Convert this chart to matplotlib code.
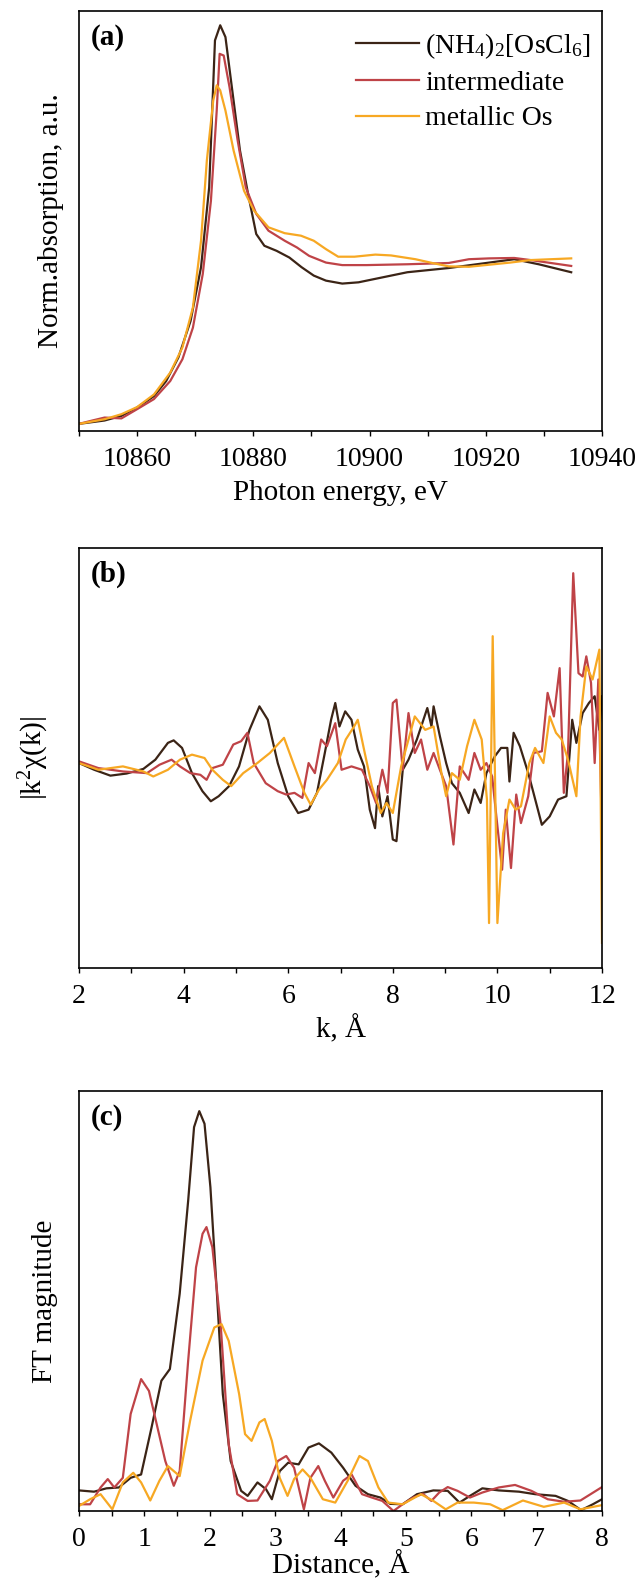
import matplotlib
matplotlib.use("Agg")
import matplotlib.pyplot as plt
from matplotlib.ticker import MultipleLocator
import numpy as np

plt.rcParams['font.family'] = ['Liberation Serif', 'DejaVu Serif']
plt.rcParams['mathtext.fontset'] = 'custom'
plt.rcParams['mathtext.rm'] = 'Liberation Serif'
plt.rcParams['mathtext.it'] = 'Liberation Serif:italic'

names = ['(NH$_4$)$_2$[OsCl$_6$]', 'intermediate', 'metallic Os']
colors = ['#3b2416', '#bf4347', '#f7a823']

# (a) XANES, normalized absorption (a.u.)
e_ref = [10850, 10854.4, 10857.3, 10860, 10862.9, 10865, 10867.1, 10869.2, 10871, 10872.4,
         10873.4, 10874.3, 10875.2, 10876.3, 10877.7, 10879.1, 10880.5, 10881.9, 10884, 10886.2,
         10888.3, 10890.4, 10892.5, 10895.3, 10898.1, 10901.6, 10906.5, 10913.6, 10920.6, 10924.9,
         10929.1, 10934.7]
mu_ref = [0.017, 0.025, 0.036, 0.056, 0.083, 0.119, 0.175, 0.262, 0.39, 0.58,
          0.93, 0.966, 0.938, 0.819, 0.668, 0.564, 0.469, 0.441, 0.429, 0.413,
          0.39, 0.37, 0.358, 0.351, 0.354, 0.364, 0.378, 0.388, 0.401, 0.409,
          0.397, 0.378]
e_int = [10850, 10852.3, 10854.4, 10857.3, 10860, 10862.9, 10865.7, 10867.8, 10869.6, 10871.3,
         10872.7, 10873.7, 10874.2, 10874.9, 10875.9, 10877.3, 10878.7, 10880.5, 10882.6, 10885.4,
         10887.5, 10889.6, 10892.5, 10895.3, 10899.5, 10906.5, 10913.6, 10917.1, 10920.6, 10924.9,
         10927.7, 10934.7]
mu_int = [0.017, 0.025, 0.032, 0.030, 0.052, 0.076, 0.119, 0.171, 0.246, 0.374,
          0.548, 0.763, 0.898, 0.894, 0.819, 0.692, 0.580, 0.517, 0.477, 0.453,
          0.437, 0.417, 0.401, 0.395, 0.395, 0.397, 0.400, 0.409, 0.411, 0.412,
          0.407, 0.393]
e_met = [10850, 10854.4, 10857.3, 10860, 10862.9, 10865.7, 10867.8, 10869.6, 10871, 10872,
         10873.1, 10873.7, 10874.3, 10875.2, 10876.6, 10878.4, 10880.1, 10882.6, 10885.4, 10888.2,
         10890.4, 10892.5, 10894.6, 10897.4, 10901, 10903.7, 10907.9, 10910.8, 10913.6, 10917.1,
         10924.2, 10927.7, 10934.7]
mu_met = [0.017, 0.028, 0.040, 0.057, 0.087, 0.139, 0.199, 0.294, 0.453, 0.644,
          0.787, 0.823, 0.811, 0.763, 0.668, 0.572, 0.525, 0.485, 0.471, 0.465,
          0.453, 0.433, 0.415, 0.415, 0.420, 0.418, 0.409, 0.400, 0.392, 0.391,
          0.401, 0.407, 0.411]

# (b) EXAFS |k^2 chi(k)| (a.u.)
k_ref = [2.0, 2.29, 2.6, 2.91, 3.23, 3.46, 3.7, 3.81, 3.97, 4.16, 4.36, 4.52, 4.67, 4.87, 5.06,
         5.26, 5.45, 5.61, 5.8, 6.0, 6.19, 6.39, 6.55, 6.7, 6.82, 6.9, 6.98, 7.09, 7.21, 7.33,
         7.45, 7.56, 7.66, 7.72, 7.8, 7.9, 8.0, 8.07, 8.19, 8.3, 8.46, 8.66, 8.74, 8.78, 8.9,
         9.02, 9.13, 9.28, 9.45, 9.56, 9.68, 9.79, 9.95, 10.07, 10.19, 10.23, 10.31, 10.43, 10.59,
         10.69, 10.85, 11.0, 11.16, 11.32, 11.43, 11.51, 11.63, 11.75, 11.86, 11.95, 12.0]
chi_ref = [0.488, 0.472, 0.458, 0.463, 0.474, 0.496, 0.536, 0.542, 0.524, 0.464, 0.421, 0.397,
           0.409, 0.433, 0.480, 0.567, 0.623, 0.591, 0.488, 0.409, 0.369, 0.377, 0.417, 0.512,
           0.591, 0.631, 0.575, 0.611, 0.591, 0.520, 0.480, 0.377, 0.333, 0.433, 0.361, 0.409,
           0.306, 0.302, 0.472, 0.496, 0.544, 0.619, 0.575, 0.623, 0.552, 0.488, 0.440, 0.417,
           0.369, 0.425, 0.393, 0.464, 0.504, 0.524, 0.524, 0.444, 0.560, 0.528, 0.464, 0.417,
           0.341, 0.361, 0.401, 0.409, 0.591, 0.536, 0.607, 0.631, 0.647, 0.567, 0.647]
k_int = [2.0, 2.37, 2.84, 3.3, 3.54, 3.77, 3.93, 4.13, 4.32, 4.44, 4.55, 4.75, 4.95, 5.1, 5.22,
         5.34, 5.57, 5.8, 5.96, 6.12, 6.27, 6.39, 6.51, 6.63, 6.74, 6.9, 7.02, 7.21, 7.41, 7.56,
         7.68, 7.8, 7.9, 8.0, 8.07, 8.19, 8.3, 8.42, 8.54, 8.66, 8.78, 8.9, 9.02, 9.16, 9.28,
         9.45, 9.56, 9.68, 9.79, 9.9, 9.98, 10.09, 10.16, 10.26, 10.36, 10.45, 10.59, 10.69, 10.85,
         10.96, 11.08, 11.19, 11.27, 11.35, 11.45, 11.55, 11.63, 11.7, 11.79, 11.86, 11.93, 12.0]
chi_int = [0.492, 0.476, 0.468, 0.464, 0.484, 0.496, 0.480, 0.464, 0.460, 0.448, 0.476, 0.484,
           0.532, 0.540, 0.560, 0.488, 0.440, 0.421, 0.413, 0.417, 0.405, 0.488, 0.464, 0.544,
           0.528, 0.583, 0.472, 0.480, 0.472, 0.433, 0.393, 0.472, 0.417, 0.631, 0.639, 0.472,
           0.607, 0.512, 0.544, 0.472, 0.512, 0.472, 0.433, 0.294, 0.480, 0.448, 0.512, 0.472,
           0.488, 0.456, 0.361, 0.234, 0.377, 0.238, 0.413, 0.345, 0.409, 0.512, 0.516, 0.655,
           0.599, 0.714, 0.417, 0.512, 0.940, 0.702, 0.694, 0.742, 0.679, 0.488, 0.687, 0.313]
k_met = [2.0, 2.37, 2.84, 3.23, 3.42, 3.7, 3.93, 4.16, 4.4, 4.55, 4.75, 4.91, 5.14, 5.41, 5.65,
         5.92, 6.12, 6.31, 6.43, 6.59, 6.74, 6.95, 7.1, 7.26, 7.33, 7.45, 7.6, 7.77, 7.88, 8.0,
         8.16, 8.3, 8.42, 8.62, 8.78, 8.93, 9.02, 9.13, 9.28, 9.42, 9.56, 9.7, 9.8, 9.84, 9.91,
         10.0, 10.11, 10.23, 10.35, 10.45, 10.61, 10.72, 10.88, 11.0, 11.12, 11.23, 11.35, 11.51,
         11.59, 11.7, 11.82, 11.95, 12.0]
chi_met = [0.488, 0.472, 0.480, 0.468, 0.456, 0.472, 0.496, 0.508, 0.500, 0.472, 0.448, 0.433,
           0.464, 0.488, 0.512, 0.548, 0.480, 0.417, 0.389, 0.425, 0.448, 0.488, 0.544, 0.575,
           0.591, 0.520, 0.433, 0.369, 0.393, 0.369, 0.480, 0.544, 0.599, 0.567, 0.575, 0.464,
           0.409, 0.464, 0.448, 0.528, 0.591, 0.544, 0.401, 0.107, 0.790, 0.107, 0.321, 0.401,
           0.377, 0.385, 0.488, 0.524, 0.488, 0.599, 0.560, 0.544, 0.496, 0.409, 0.599, 0.718,
           0.687, 0.758, 0.060]

# (c) Fourier transform magnitude (a.u.)
r_ref = [0, 0.23, 0.42, 0.61, 0.79, 0.95, 1.11, 1.26, 1.39, 1.54, 1.67, 1.76, 1.84, 1.92, 2.01,
         2.11, 2.2, 2.32, 2.48, 2.58, 2.73, 2.86, 2.95, 3.07, 3.2, 3.36, 3.51, 3.67, 3.86, 4.04,
         4.23, 4.42, 4.61, 4.76, 4.95, 5.17, 5.42, 5.64, 5.82, 5.98, 6.17, 6.42, 6.73, 6.98,
         7.29, 7.48, 7.68, 7.86, 8.0]
ft_ref = [0.049, 0.046, 0.054, 0.056, 0.079, 0.087, 0.199, 0.310, 0.338, 0.517, 0.739, 0.914,
          0.952, 0.922, 0.771, 0.517, 0.278, 0.119, 0.048, 0.036, 0.068, 0.052, 0.028, 0.095,
          0.115, 0.111, 0.151, 0.161, 0.139, 0.103, 0.060, 0.040, 0.032, 0.017, 0.016, 0.040,
          0.049, 0.048, 0.020, 0.036, 0.054, 0.049, 0.046, 0.040, 0.036, 0.024, 0.002, 0.016,
          0.028]
r_int = [0, 0.17, 0.33, 0.44, 0.54, 0.67, 0.79, 0.95, 1.07, 1.2, 1.32, 1.45, 1.54, 1.67, 1.79,
         1.89, 1.95, 2.04, 2.17, 2.29, 2.42, 2.58, 2.73, 2.92, 3.04, 3.17, 3.29, 3.44, 3.54, 3.66,
         3.76, 3.89, 4.04, 4.17, 4.33, 4.48, 4.64, 4.81, 4.95, 5.11, 5.26, 5.39, 5.51, 5.64,
         5.79, 5.98, 6.17, 6.42, 6.67, 6.92, 7.17, 7.42, 7.67, 8.0]
ft_int = [0.016, 0.016, 0.056, 0.076, 0.056, 0.079, 0.231, 0.314, 0.286, 0.199, 0.119, 0.060,
          0.095, 0.358, 0.580, 0.660, 0.676, 0.628, 0.437, 0.159, 0.040, 0.024, 0.025, 0.072,
          0.119, 0.131, 0.103, 0.004, 0.079, 0.107, 0.072, 0.032, 0.072, 0.087, 0.040, 0.032,
          0.024, 0.0, 0.016, 0.032, 0.041, 0.024, 0.044, 0.057, 0.048, 0.032, 0.044, 0.056,
          0.062, 0.048, 0.028, 0.022, 0.025, 0.057]
r_met = [0, 0.17, 0.33, 0.51, 0.67, 0.83, 0.95, 1.09, 1.23, 1.36, 1.54, 1.7, 1.89, 2.07, 2.18,
         2.29, 2.45, 2.54, 2.64, 2.76, 2.84, 2.95, 3.07, 3.19, 3.29, 3.42, 3.54, 3.73, 3.92, 4.11,
         4.29, 4.42, 4.58, 4.73, 4.95, 5.23, 5.42, 5.61, 5.79, 6.04, 6.29, 6.48, 6.79, 7.11,
         7.42, 7.67, 8.0]
ft_met = [0.012, 0.028, 0.040, 0.004, 0.068, 0.091, 0.068, 0.025, 0.072, 0.107, 0.083, 0.215,
          0.358, 0.437, 0.445, 0.405, 0.278, 0.183, 0.167, 0.211, 0.219, 0.167, 0.079, 0.036,
          0.076, 0.099, 0.079, 0.028, 0.020, 0.072, 0.131, 0.119, 0.056, 0.020, 0.016, 0.040,
          0.024, 0.004, 0.020, 0.020, 0.016, 0.002, 0.025, 0.010, 0.020, 0.004, 0.014]

fig = plt.figure(figsize=(6.4, 15.81), dpi=100)
W, H = 640, 1581
def place(top, bottom):
    return fig.add_axes([79 / W, 1 - bottom / H, 523 / W, (bottom - top) / H])

ax_a = place(11, 431)
ax_b = place(548, 968)
ax_c = place(1091, 1511)

lw = 1.6
for x, y, c, n in zip([e_ref, e_int, e_met], [mu_ref, mu_int, mu_met], colors, names):
    ax_a.plot(x, y, color=c, lw=lw, label=n)
for x, y, c in zip([k_ref, k_int, k_met], [chi_ref, chi_int, chi_met], colors):
    ax_b.plot(x, y, color=c, lw=lw)
for x, y, c in zip([r_ref, r_int, r_met], [ft_ref, ft_int, ft_met], colors):
    ax_c.plot(x, y, color=c, lw=lw)

fs_tick = 20
fs_lab = 21
ax_a.set_xlim(10850, 10940)
ax_a.set_ylim(0, 1)
ax_a.xaxis.set_major_locator(MultipleLocator(20))
ax_a.xaxis.set_minor_locator(MultipleLocator(10))
ax_a.set_xlabel('Photon energy, eV', fontsize=fs_lab, labelpad=6)
ax_a.set_ylabel('Norm.absorption, a.u.', fontsize=fs_lab, labelpad=11)

ax_b.set_xlim(2, 12)
ax_b.set_ylim(0, 1)
ax_b.xaxis.set_major_locator(MultipleLocator(2))
ax_b.xaxis.set_minor_locator(MultipleLocator(1))
ax_b.set_xlabel('k, Å', fontsize=fs_lab, labelpad=4)
ax_b.set_ylabel('|k$^2$χ(k)|', fontsize=fs_lab, labelpad=20)

ax_c.set_xlim(0, 8)
ax_c.set_ylim(0, 1)
ax_c.xaxis.set_major_locator(MultipleLocator(1))
ax_c.xaxis.set_minor_locator(MultipleLocator(0.5))
ax_c.set_xlabel('Distance, Å', fontsize=fs_lab, labelpad=-1)
ax_c.set_ylabel('FT magnitude', fontsize=fs_lab, labelpad=15)

for ax, tag in zip([ax_a, ax_b, ax_c], ['(a)', '(b)', '(c)']):
    ax.set_yticks([])
    ax.tick_params(axis='x', which='major', direction='out', length=3.5, width=1,
                   labelsize=fs_tick, pad=8)
    ax.tick_params(axis='x', which='minor', direction='out', length=3.5, width=1)
    for s in ax.spines.values():
        s.set_linewidth(1.2)
    ax.text(0.023, 0.97, tag, transform=ax.transAxes, fontsize=fs_lab, fontweight='bold',
            ha='left', va='top')

ax_a.legend(loc='upper right', bbox_to_anchor=(1.005, 0.985), frameon=False, fontsize=20,
            handlelength=2.3, handletextpad=0.2, labelspacing=0.35, borderaxespad=0.1)

fig.savefig('out.png', dpi=100)
